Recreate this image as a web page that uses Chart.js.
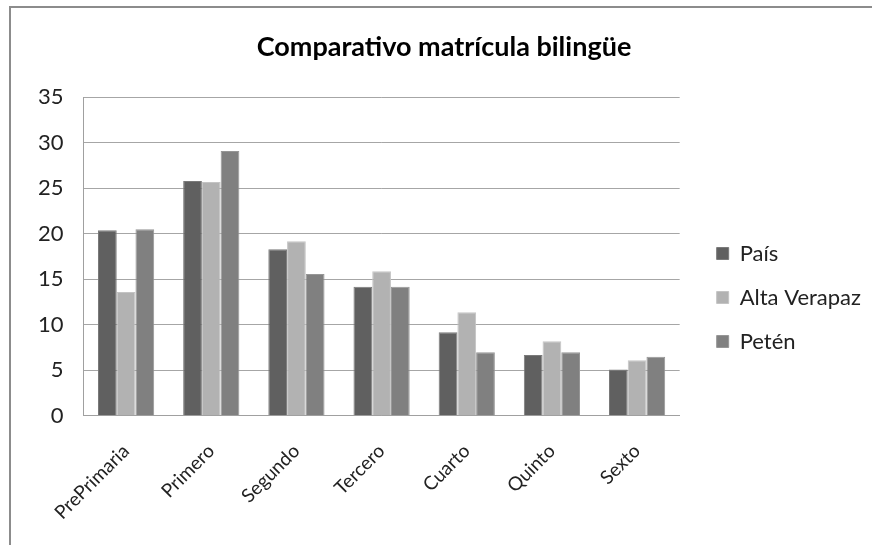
<!DOCTYPE html>
<html>
<head>
<meta charset="utf-8">
<script src="https://cdn.jsdelivr.net/npm/chart.js@4"></script>
<style>
    html, body { margin: 0; padding: 0; background: #fff; }
    #chart { display: block; }
</style>
</head>
<body>
<canvas id="chart" width="872" height="545"></canvas>
<script>
const grados = ['PrePrimaria', 'Primero', 'Segundo', 'Tercero', 'Cuarto', 'Quinto', 'Sexto']
const pais = [20.4, 25.8, 18.3, 14.2, 9.2, 6.7, 5.1]
const altaVerapaz = [13.6, 25.7, 19.2, 15.9, 11.4, 8.2, 6.1]
const peten = [20.5, 29.1, 15.6, 14.2, 7.0, 7.0, 6.5]

const fontFamily = 'Lato, "Open Sans", sans-serif'

// marco gris de la imagen original (arriba e izquierda)
const frame = {
    id: 'frame',
    beforeDraw(chart) {
        const ctx = chart.ctx
        ctx.save()
        ctx.fillStyle = '#fff'
        ctx.fillRect(0, 0, chart.width, chart.height)
        ctx.strokeStyle = '#8c8c8c'
        ctx.lineWidth = 2
        ctx.beginPath()
        ctx.moveTo(10, chart.height)
        ctx.lineTo(10, 7)
        ctx.lineTo(chart.width, 7)
        ctx.stroke()
        ctx.restore()
    }
}

// deja mas aire entre el grafico y la leyenda, como en Excel
const legendShift = {
    id: 'legendShift',
    afterLayout(chart) {
        const lg = chart.legend
        lg.left += 15
        lg.right += 15
        lg.top += 12
        lg.bottom += 12
        const tb = chart.titleBlock
        tb.left += 7
        tb.right += 7
    }
}

new Chart(document.getElementById('chart'), {
    type: 'bar',
    data: {
        labels: grados,
        datasets: [
            { label: 'País', data: pais, backgroundColor: '#606060', borderColor: '#7a7a7a', borderWidth: 1 },
            { label: 'Alta Verapaz', data: altaVerapaz, backgroundColor: '#b2b2b2', borderColor: '#c4c4c4', borderWidth: 1 },
            { label: 'Petén', data: peten, backgroundColor: '#808080', borderColor: '#969696', borderWidth: 1 }
        ]
    },
    options: {
        responsive: false,
        animation: false,
        categoryPercentage: 0.66,
        barPercentage: 1,
        layout: {
            padding: { top: 31, left: 18, right: 16, bottom: 5 }
        },
        plugins: {
            title: {
                display: true,
                text: 'Comparativo matrícula bilingüe',
                color: '#000',
                font: { family: fontFamily, size: 27, weight: 'bold' },
                padding: { top: 0, bottom: 34 }
            },
            legend: {
                position: 'right',
                labels: {
                    color: '#222',
                    boxWidth: 12,
                    boxHeight: 12,
                    padding: 22,
                    font: { family: fontFamily, size: 22 }
                }
            },
            tooltip: { enabled: false }
        },
        scales: {
            x: {
                grid: { display: false },
                border: { color: '#a0a0a0', width: 1 },
                ticks: {
                    color: '#222',
                    minRotation: 45,
                    maxRotation: 45,
                    padding: 16,
                    font: { family: fontFamily, size: 19 }
                }
            },
            y: {
                min: 0,
                max: 35,
                grid: { color: '#a6a6a6', drawTicks: false },
                border: { color: '#a0a0a0', width: 1 },
                ticks: {
                    stepSize: 5,
                    color: '#222',
                    padding: 20,
                    font: { family: fontFamily, size: 22 }
                }
            }
        }
    },
    plugins: [frame, legendShift]
})
</script>
</body>
</html>
